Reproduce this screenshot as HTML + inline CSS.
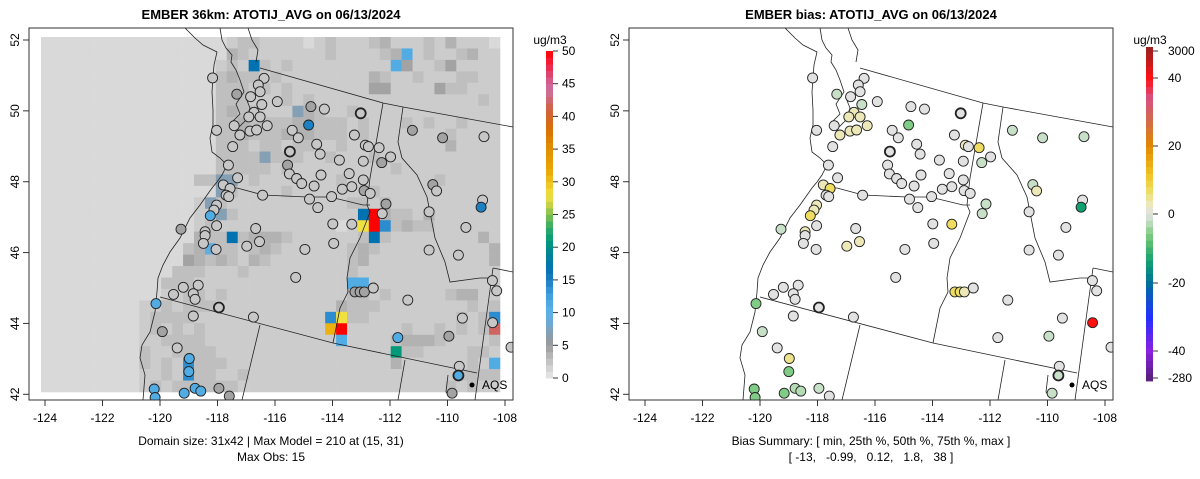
<!DOCTYPE html>
<html><head><meta charset="utf-8"><style>
body{margin:0;background:#fff;}
svg{display:block;font-family:"Liberation Sans",sans-serif;}
</style></head><body>
<svg id="chart" width="1200" height="479" viewBox="0 0 1200 479" xmlns="http://www.w3.org/2000/svg">
<defs>
<clipPath id="clipL"><rect x="29" y="28" width="484" height="372"/></clipPath>
<clipPath id="clipR"><rect x="629" y="28" width="484" height="372"/></clipPath>
</defs>
<text x="271" y="19" text-anchor="middle" font-size="13" font-weight="bold">EMBER 36km: ATOTIJ_AVG on 06/13/2024</text>
<text x="871" y="19" text-anchor="middle" font-size="13" font-weight="bold">EMBER bias: ATOTIJ_AVG on 06/13/2024</text>
<g id="left"></g>
<g id="right"></g>
<text x="271" y="445" text-anchor="middle" font-size="12">Domain size: 31x42 | Max Model = 210 at (15, 31)</text>
<text x="271" y="461" text-anchor="middle" font-size="12">Max Obs: 15</text>
<text x="871" y="445" text-anchor="middle" font-size="12">Bias Summary: [ min, 25th %, 50th %, 75th %, max ]</text>
<text x="871" y="461" text-anchor="middle" font-size="12" xml:space="preserve">[ -13,   -0.99,   0.12,   1.8,   38 ]</text>
</svg>
<script>
const xTicks=[-124,-122,-120,-118,-116,-114,-112,-110,-108];
const yTicks=[42,44,46,48,50,52];
const obsTicks=[0,5,10,15,20,25,30,35,40,45,50];
const biasTicks=[-280,-40,-20,0,20,40,3000];
const gridRows=[
"aaaaaaaaaaaaaaaaabccbbbbabcbbbcdbbbcbdbbba",
"aaaaaaaaaaaaaaaaadcbbbbbbbcbbbbcdibcbbcdbb",
"aaaaaaaaaaaaaaaabcbkcbcbbbbbbbbbiebbcebbbb",
"aaaaaaaaaaaaaaaacdccbcbbbbbbbbdcbbcbbbccbb",
"aaaaaaaaaaaaaaaacccbcbcbbbbbbbeebbbbeccbbb",
"aaaaaaaaaaaaaaaacccbbbcbcbbbbbbbbbbbbbbbcb",
"aaaaaaaaaaaaaaaacdccbbbgdcbbcbbbbbbbbbbbbb",
"aaaaaaaaaaaaaaaaccdccccddcccbcbbbcbcbbcbbb",
"aaaaaaaaaaaaaaaaccdcccdddcccbcbbbbbbbcbbbb",
"aaaaaaaaaaaaaaaacccbccbccbbcbbbbbbbbbdbbbb",
"aaaaaaaaaaaaaaaaccccgcccbbcbbbcbbbbbbbbbbb",
"aaaaaaaaaaaaaaaacccccbcbbbbbbbbbcbbbbbbbbb",
"aaaaaaaaaaaaaaccggbcbbbbbbbcbbbbbbbbcbbbbb",
"aaaaaaaaaaaaaaaagcbbbbcbbbbbbbcbbbbbbbbbbb",
"aaaaaaaaaaaaaabgcbbbbbbbbbbbccbcbbbbbbbbbb",
"aaaaaaaaaaaaaabbgcbbbbbbbbbbbkrdccbdbbbbbb",
"aaaaaaaaaaaaaabcbbbbbbbbbbbabyrjcdccbbbbbb",
"aaaaaaaaaaaaaadcckcdddcbbbbbbckcbbbbbbbbdb",
"aaaaaaaaaaaaacdhccbcdcbbbbbbcdcbbbbbbbbbbd",
"aaaaaaaaaaaaaedcdcbdcbbbbbbbcdbbbbbbbbbbbd",
"aaaaaaaaaaaacccbbbcbbbbbbbbbcbbbbbbbbbbbbb",
"aaaaaaaaaaacccbbbbbbbbbbbbbbiibbbbbbbbbbbb",
"aaaaaaaaaaabbccbcbbbbbbbbbbbccbcbbbbbcddbb",
"aaaaaaaaabbcbcccbbbbbbbbbbbdcccbbbbbbbbcbc",
"aaaaaaaaabccccbbbbbbbbbbbbjyccbbbbbbbbcbcj",
"aaaaaaaaabcbcbcbbbbbbbbbbborbbbbbcbbcbcbcs",
"aaaaaaaaabbccccbbbbbbbbbbbbibbbbcdddcbbbbc",
"aaaaaaaaacbbccccbbbbbbbbbbbbbbbblccbbbbccb",
"aaaaaaaaacbcbjcccbbbbbbbbbbbbbbbdbbbbbbcbi",
"aaaaaaaaabbcbjccbbcbbbbbbbbbbbbbbbbbbbcccc",
"aaaaaaaaabcbccccccbbbbbbbbbbbbbbbbbbbcbcbb"];
const codeValues={a:1,b:2,c:2.8,d:3.6,e:4.5,g:7,h:9,i:11,j:14,k:17,l:21,y:28,o:31,s:42,r:50};
const stLon=[-118.17,-117.33,-116.38,-116.58,-116.52,-116.85,-116.46,-115.92,-116.73,-116.91,-116.52,-117.42,-117.22,-116.87,-116.64,-116.27,-118.03,-114.75,-114.28,-113.02,-114.83,-115.40,-115.19,-114.55,-114.43,-115.48,-117.47,-117.62,-115.56,-115.50,-115.25,-115.07,-114.64,-114.40,-113.76,-113.24,-112.86,-112.75,-112.38,-112.93,-112.29,-111.98,-113.42,-112.93,-113.33,-113.66,-112.90,-112.69,-114.03,-114.80,-114.51,-116.43,-117.30,-117.80,-117.56,-117.70,-117.61,-118.03,-118.12,-118.25,-118.03,-118.43,-118.43,-118.49,-118.05,-119.27,-116.67,-116.98,-116.54,-114.96,-113.99,-113.33,-113.96,-112.14,-112.27,-111.22,-110.17,-108.73,-110.51,-110.38,-110.64,-109.36,-108.78,-108.83,-110.64,-109.62,-108.44,-108.29,-115.28,-119.19,-118.67,-119.53,-118.84,-118.78,-117.95,-120.14,-118.84,-116.75,-113.22,-113.04,-112.89,-112.58,-111.38,-109.48,-108.43,-119.92,-119.40,-118.98,-119.00,-120.20,-120.17,-119.16,-118.78,-118.58,-117.95,-117.59,-111.73,-109.95,-109.59,-109.62,-109.84,-107.79];
const stLat=[50.93,50.47,50.92,50.73,50.54,50.40,50.18,50.26,49.96,49.83,49.83,49.58,49.32,49.43,49.46,49.58,49.45,50.12,50.05,49.93,49.60,49.45,49.24,49.06,48.78,48.85,48.99,48.47,48.47,48.22,48.09,47.95,47.88,48.19,48.61,49.32,49.03,48.99,48.96,48.58,48.54,48.70,48.23,48.05,47.86,47.79,47.75,47.67,47.58,47.51,47.27,47.62,48.11,47.91,47.81,47.62,47.58,47.34,47.20,47.04,46.76,46.59,46.48,46.26,46.09,46.66,46.68,46.18,46.31,46.09,46.81,46.80,46.26,47.37,47.10,49.45,49.24,49.27,47.92,47.74,47.15,46.71,47.48,47.28,46.07,45.93,45.21,44.92,45.30,45.02,45.08,44.82,44.84,44.68,44.45,44.56,44.21,44.18,44.89,44.89,44.89,45.00,44.66,44.15,44.02,43.77,43.31,43.01,42.64,42.15,41.91,42.03,42.17,42.09,42.17,41.95,43.60,43.64,42.79,42.53,42.03,43.33];
const obsVal=[2.3,4.5,2.3,2.3,2.3,2.3,2.3,2.3,2.3,2.3,2.3,2.3,2.3,2.3,2.3,2.3,2.3,4.5,2.3,2.3,15,2.3,2.3,2.3,2.3,2.3,2.3,2.3,4.5,2.3,2.3,2.3,2.3,2.3,2.3,2.3,2.3,2.3,2.3,2.3,4.5,2.3,2.3,2.3,2.3,2.3,4.5,2.3,2.3,2.3,2.3,2.3,2.3,2.3,2.3,2.3,2.3,2.3,2.3,11,2.3,2.3,2.3,2.3,2.3,4.5,2.3,2.3,2.3,2.3,2.3,2.3,2.3,4.5,2.3,4.5,4.5,2.3,4.5,2.3,2.3,2.3,2.3,15,2.3,2.3,2.3,2.3,2.3,2.3,2.3,2.3,2.3,2.3,2.3,11,2.3,2.3,4.5,4.5,4.5,2.3,2.3,2.3,2.3,4.5,2.3,11,11,11,11,11,11,11,4.5,4.5,11,4.5,2.3,11,4.5,2.3];
const biasVal=[0,-2,0,0,0,0,-2,0,3,3,3,0,3,3,3,3,0,0,0,0,-6,0,0,0,0,0,0,0,0,0,0,0,0,0,0,0,3,0,7,0,-2,0,0,0,0,0,0,0,0,0,0,0,0,3,7,0,0,3,3,7,0,3,0,0,0,-2,0,3,3,0,0,7,0,-2,-2,-2,-2,-2,-2,3,0,0,0,-14,0,0,0,0,0,0,0,0,0,0,0,-6,0,0,7,7,3,0,0,0,42,-2,0,5,-6,-6,-6,-6,-3,-3,-2,0,0,-2,0,-2,-2,0];
const thick=[19,25,94,119];
const obsStops=[[0,"#e8e8e8"],[1,"#d9d9d9"],[2,"#cccccc"],[3,"#bcbcbc"],[4,"#ababab"],[5,"#9b9b9b"],[6,"#8f9aa3"],[7,"#85a0b4"],[8,"#74a6cc"],[9,"#64acdc"],[10,"#5ab2e6"],[12,"#4aa6e2"],[14,"#2b8ccf"],[16,"#0e74b6"],[17,"#0072b2"],[19,"#008496"],[21,"#009a7a"],[23,"#30ac68"],[25,"#80c050"],[27,"#dcd844"],[28,"#f0e040"],[30,"#eec020"],[32,"#e8a400"],[35,"#e09000"],[38,"#d87000"],[41,"#d06040"],[44,"#cc70a0"],[46,"#d85080"],[48,"#f02040"],[50,"#ff0000"]];
const biasStops=[[-280,"#5a2080"],[-40,"#8a20e0"],[-30,"#2030ff"],[-20,"#00709a"],[-14,"#10a070"],[-8,"#60c070"],[-5,"#90d090"],[-2,"#c8e0c8"],[0,"#e2e2e2"],[3,"#ece8b8"],[7,"#eedd60"],[12,"#f0c020"],[20,"#e08800"],[28,"#d06850"],[34,"#d85080"],[40,"#ff1010"],[3000,"#a02020"]];
const NS="http://www.w3.org/2000/svg";
function hx(c){return [1,3,5].map(i=>parseInt(c.substr(i,2),16));}
function interp(stops,v){
  if(v<=stops[0][0])return stops[0][1];
  for(let i=1;i<stops.length;i++){if(v<=stops[i][0]){const a=stops[i-1],b=stops[i];const t=(v-a[0])/(b[0]-a[0]);const ca=hx(a[1]),cb=hx(b[1]);return "rgb("+ca.map((x,k)=>Math.round(x+(cb[k]-x)*t)).join(",")+")";}}
  return stops[stops.length-1][1];
}
function xs(lon,off){return off+45+(lon+124)*28.75;}
function ys(lat){return 40+(52-lat)*35.43;}
function mk(tag,attrs,parent){const e=document.createElementNS(NS,tag);for(const k in attrs)e.setAttribute(k,attrs[k]);parent.appendChild(e);return e;}
const basemap="M185,28 L195,38 L203,45 L217,52 L214,65 L213,78 L212,92 L213,110 L213,125 L210,138 L212,152 L220,158 L227,165 L222,175 L217,182 L212,188 L200,205 L190,218 L180,238 L170,252 L163,265 L158,278 L157,292 L155,312 L150,332 L142,345 L140,358 L145,375 L143,400 "+
"M220,28 L222,40 L226,48 L232,55 L231,62 L236,70 L240,80 L244,92 L236,104 L240,114 L232,122 L238,128 L246,120 L250,108 L246,98 M248,28 L252,40 L258,50 L256,62 "+
"M227,188 L237,188 L263,195 L307,197 L330,197 L363,205 L370,205 M383,103 L370,178 L367,205 L370,212 L360,238 L350,258 L347,278 L348,292 L340,308 L333,343 "+
"M260,68 L383,103 L403,107 L513,127 M403,107 L398,142 L402,158 L417,175 L427,197 L435,238 L445,262 L450,282 L480,278 L492,278 M493,268 L513,272 M493,268 L475,400 "+
"M160,297 L333,343 L477,373 M260,325 L242,400 M405,360 L398,400 M448,375 L446,392 L450,398";
function panel(g,off,bias){
  const clip=off===0?"url(#clipL)":"url(#clipR)";
  const inner=mk("g",{"clip-path":clip},g);
  if(!bias){
    const cw=459/42,ch=355/31;
    gridRows.forEach((row,r)=>{for(let c=0;c<row.length;c++){
      const cell=mk("rect",{x:(41+c*cw).toFixed(2),y:(37+r*ch).toFixed(2),width:(cw+0.3).toFixed(2),height:(ch+0.3).toFixed(2),fill:interp(obsStops,codeValues[row[c]])},inner);
      
      
    }});
  }
  const bm=mk("path",{d:basemap,transform:"translate("+off+",0)",fill:"none",stroke:"#222","stroke-width":"0.8"},inner);
  
  
  stLon.forEach((lo,i)=>{
    const v=bias?biasVal[i]:obsVal[i];
    const c=mk("circle",{cx:xs(lo,off).toFixed(1),cy:ys(stLat[i]).toFixed(1),r:5,fill:bias?interp(biasStops,v):interp(obsStops,v),stroke:"#222","stroke-width":thick.includes(i)?1.8:0.9},inner);
    
    
  });
  const dot=mk("circle",{cx:472+off,cy:385,r:2.5,fill:"#000"},g);
  
  
  const lt=mk("text",{x:482+off,y:389,"font-size":12},g);lt.textContent="AQS";
  
  
  const box=mk("rect",{x:29+off,y:28,width:484,height:372,fill:"none",stroke:"#333","stroke-width":1},g);
  
  
  xTicks.forEach(t=>{
    const x=xs(t,off);
    const tk=mk("line",{x1:x,x2:x,y1:400,y2:406,stroke:"#333"},g);
    
    
    const tl=mk("text",{x:x,y:422,"text-anchor":"middle","font-size":12},g);tl.textContent=t;
    
    
  });
  yTicks.forEach(t=>{
    const y=ys(t);
    const tk=mk("line",{x1:23+off,x2:29+off,y1:y,y2:y,stroke:"#333"},g);
    
    
    const tl=mk("text",{x:0,y:0,"text-anchor":"middle","font-size":12,transform:"translate("+(19+off)+","+y+") rotate(-90)"},g);tl.textContent=t;
    
    
  });
}
panel(document.getElementById("left"),0,false);
panel(document.getElementById("right"),600,true);
// colorbars
(function(){
  const g=document.getElementById("left");
  const yv=v=>378-(v/50)*327;
  for(let v=0;v<50;v++){
    const r=mk("rect",{x:546,y:yv(v+1).toFixed(2),width:7,height:(327/50+0.4).toFixed(2),fill:interp(obsStops,v+0.5)},g);
    
    
  }
  obsTicks.forEach(t=>{
    const tk=mk("line",{x1:553,x2:558,y1:yv(t),y2:yv(t),stroke:"#333"},g);
    
    
    const tl=mk("text",{x:562,y:yv(t)+4,"font-size":12},g);tl.textContent=t;
    
    
  });
  const u=mk("text",{x:550,y:44,"text-anchor":"middle","font-size":12},g);u.textContent="ug/m3";
  
  
})();
(function(){
  const g=document.getElementById("right");
  const tickY=[378,351,283,214,146,78,51];
  const yv=v=>{for(let i=1;i<biasTicks.length;i++){if(v<=biasTicks[i]){const t=(v-biasTicks[i-1])/(biasTicks[i]-biasTicks[i-1]);return tickY[i-1]+(tickY[i]-tickY[i-1])*t;}}return 51;};
  const vy=y=>{for(let i=1;i<tickY.length;i++){if(y>=tickY[i]){const t=(tickY[i-1]-y)/(tickY[i-1]-tickY[i]);return biasTicks[i-1]+(biasTicks[i]-biasTicks[i-1])*t;}}return 3000;};
  const n=50,h=(381-47)/n;
  for(let k=0;k<n;k++){
    const y=47+k*h;
    const r=mk("rect",{x:1146,y:y.toFixed(2),width:7,height:(h+0.4).toFixed(2),fill:interp(biasStops,vy(y+h/2))},g);
    
    
  }
  biasTicks.forEach(t=>{
    const y=yv(t);
    const tk=mk("line",{x1:1153,x2:1158,y1:y,y2:y,stroke:"#333"},g);
    
    
    const tl=mk("text",{x:1168,y:y+4,"font-size":12},g);tl.textContent=t;
    
    
  });
  const u=mk("text",{x:1150,y:44,"text-anchor":"middle","font-size":12},g);u.textContent="ug/m3";
  
  
})();
</script>
</body></html>
